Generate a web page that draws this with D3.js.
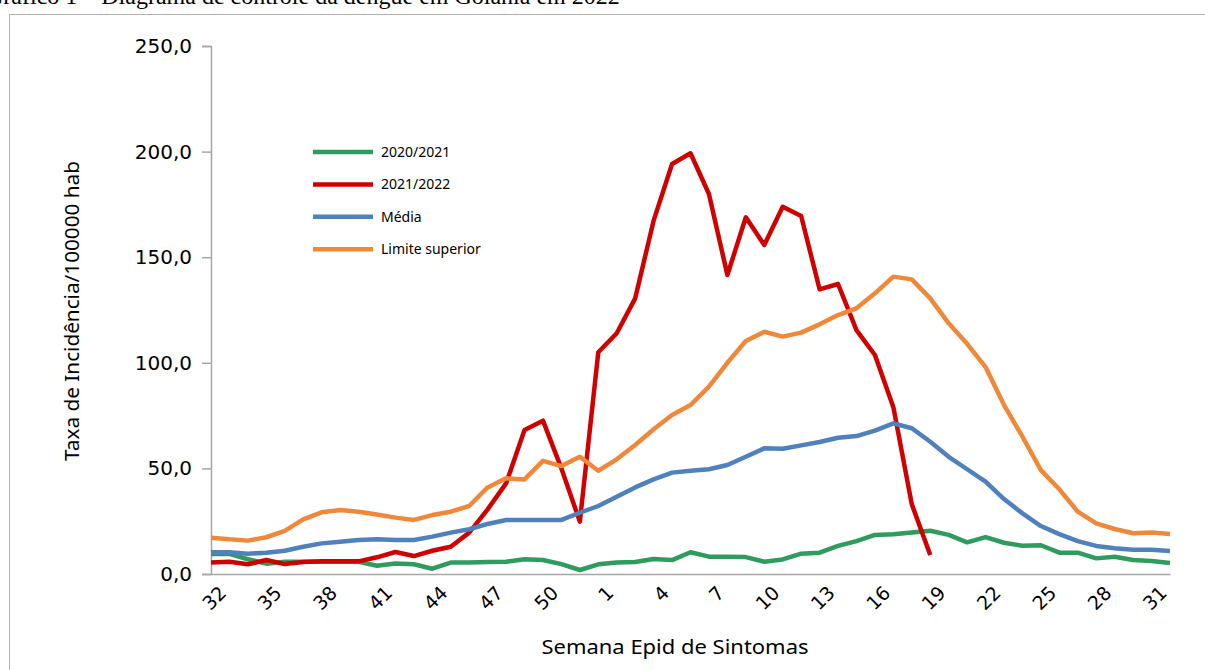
<!DOCTYPE html>
<html>
<head>
<meta charset="utf-8">
<script src="https://cdn.jsdelivr.net/npm/d3@7"></script>
<style>
  body { margin: 0; background: #fff; }
  svg { display: block; }
</style>
</head>
<body>
<svg id="chart"></svg>
<script>
// epidemiological weeks 32..52 then 1..32
var weeks = [32,33,34,35,36,37,38,39,40,41,42,43,44,45,46,47,48,49,50,51,52,
             1,2,3,4,5,6,7,8,9,10,11,12,13,14,15,16,17,18,19,20,21,22,23,24,25,26,27,28,29,30,31,32]

var yTicks = [0, 50, 100, 150, 200, 250]

var seriesNames = ["2020/2021", "2021/2022", "Média", "Limite superior"]

var green = [9.5, 9.5, 7.0, 4.9, 5.8, 5.8, 5.8, 5.8, 5.8, 3.9, 5.0, 4.6, 2.5, 5.4, 5.5, 5.7, 5.8, 7.0, 6.6, 4.7, 1.9,
             4.6, 5.4, 5.7, 7.1, 6.6, 10.3, 8.2, 8.2, 8.0, 5.8, 6.9, 9.6, 10.1, 13.3, 15.6, 18.5, 18.8, 19.7, 20.5,
             18.5, 15.0, 17.5, 14.8, 13.4, 13.6, 10.1, 10.1, 7.4, 8.2, 6.6, 6.2, 5.2]

var red = [5.4, 5.8, 4.6, 6.6, 4.7, 5.7, 6.0, 6.0, 6.0, 7.9, 10.4, 8.5, 11.0, 12.9, 19.6, 30.6, 42.9, 68.2, 72.6, 50.0,
           24.8, 105, 114, 130.5, 167.3, 194.1, 199.2, 179.9, 141.6, 168.9, 155.8, 173.9, 169.5, 134.8, 137.3, 115.5,
           103.7, 79, 33, 9]

var media = [10.3, 10.3, 9.6, 10.1, 11.0, 12.9, 14.5, 15.3, 16.1, 16.4, 16.1, 16.1, 17.7, 19.6, 21.2, 23.7, 25.6, 25.6,
             25.6, 25.6, 29.0, 32.2, 36.6, 41.0, 44.8, 48.0, 48.9, 49.6, 51.6, 55.5, 59.5, 59.3, 60.9, 62.5, 64.5, 65.3,
             67.9, 71.3, 69.0, 62.6, 55.5, 49.6, 43.7, 35.5, 28.7, 22.7, 18.9, 15.6, 13.3, 12.2, 11.5, 11.5, 10.9]

var limite = [17.2, 16.4, 15.8, 17.4, 20.4, 25.9, 29.2, 30.3, 29.5, 28.2, 26.7, 25.6, 27.9, 29.5, 32.2, 41.0, 45.3, 44.8,
              53.6, 51.1, 55.5, 48.9, 54.3, 61.1, 68.5, 75.3, 80.0, 88.7, 100, 110.3, 114.7, 112.4, 114.3, 118.2, 122.6,
              125.8, 132.9, 140.8, 139.5, 130.5, 118.7, 109, 98, 80, 65, 49.2, 40.1, 29.5, 24.0, 21.3, 19.3, 19.7, 18.9]

var dimensions = {
  width: 1205,
  height: 670,
  margin: { top: 46, bottom: 96, right: 35, left: 211 }
}

var colors = ["#2e9c5e", "#d00000", "#4f81bd", "#f0883a"]
var allSeries = [green, red, media, limite]

var svg = d3.select("#chart")
  .attr("width", dimensions.width)
  .attr("height", dimensions.height)

// cut-off caption above the frame
svg.append("text")
  .text("Gráfico 1 – Diagrama de controle da dengue em Goiânia em 2022")
  .attr("x", -14)
  .attr("y", 4)
  .style("font-family", "Liberation Serif, serif")
  .style("font-size", "24px")
  .attr("fill", "#000")

// frame
svg.append("rect")
  .attr("x", 9.5)
  .attr("y", 14.5)
  .attr("width", 1220)
  .attr("height", 700)
  .attr("fill", "none")
  .attr("stroke", "#b3b3b3")
  .attr("stroke-width", 1)

var x = d3.scalePoint()
  .domain(d3.range(weeks.length))
  .range([dimensions.margin.left, dimensions.width - dimensions.margin.right])

var y = d3.scaleLinear()
  .domain([0, 250])
  .range([dimensions.height - dimensions.margin.bottom, dimensions.margin.top])

// y axis
var yAxis = svg.append("g")
  .attr("transform", "translate(" + dimensions.margin.left + ",0)")
  .call(d3.axisLeft(y).tickValues(yTicks).tickSize(9).tickPadding(10)
    .tickFormat(function(d) { return d.toFixed(1).replace(".", ","); }))
yAxis.select(".domain").attr("stroke", "#a6a6a6").attr("stroke-width", 1.5)
yAxis.selectAll(".tick line").attr("stroke", "#a6a6a6").attr("stroke-width", 1.5)
yAxis.selectAll("text")
  .style("font-family", "DejaVu Sans, Verdana, sans-serif")
  .style("font-size", "20px")
  .attr("fill", "#000")

// x axis
var xTickIdx = d3.range(0, weeks.length, 3)
var xAxis = svg.append("g")
  .attr("transform", "translate(0," + y(0) + ")")
  .call(d3.axisBottom(x).tickValues(xTickIdx).tickSize(0)
    .tickFormat(function(i) { return weeks[i]; }))
xAxis.select(".domain").attr("stroke", "#a6a6a6").attr("stroke-width", 1.5)
xAxis.selectAll("text")
  .style("font-family", "DejaVu Sans, Verdana, sans-serif")
  .style("font-size", "19px")
  .attr("fill", "#000")
  .attr("text-anchor", "end")
  .attr("y", 0)
  .attr("dy", "0.75em")
  .attr("transform", "translate(6,10) rotate(-45)")

// lines
var line = d3.line()
  .x(function(d, i) { return x(i); })
  .y(function(d) { return y(d); })

svg.append("g")
  .selectAll("path")
  .data(allSeries)
  .enter()
  .append("path")
    .attr("d", line)
    .attr("fill", "none")
    .attr("stroke", function(d, i) { return colors[i]; })
    .attr("stroke-width", 4.5)
    .attr("stroke-linejoin", "round")

// legend
var legend = svg.append("g")
  .selectAll("g")
  .data(seriesNames)
  .enter()
  .append("g")
    .attr("transform", function(d, i) { return "translate(313," + (152 + i * 32.4) + ")"; })

legend.append("line")
  .attr("x1", 0)
  .attr("x2", 60)
  .attr("stroke", function(d, i) { return colors[i]; })
  .attr("stroke-width", 4.5)

legend.append("text")
  .text(function(d) { return d; })
  .attr("x", 68)
  .attr("dy", "0.35em")
  .style("font-family", "Noto Sans, sans-serif")
  .style("font-size", "14px")
  .attr("fill", "#000")

// axis titles
svg.append("text")
  .text("Taxa de Incidência/100000 hab")
  .attr("text-anchor", "middle")
  .attr("transform", "translate(79,311) rotate(-90)")
  .attr("textLength", 300)
  .attr("lengthAdjust", "spacingAndGlyphs")
  .style("font-family", "Noto Sans, sans-serif")
  .style("font-size", "19px")
  .attr("fill", "#000")

svg.append("text")
  .text("Semana Epid de Sintomas")
  .attr("text-anchor", "middle")
  .attr("x", 675)
  .attr("y", 654)
  .attr("textLength", 267)
  .attr("lengthAdjust", "spacingAndGlyphs")
  .style("font-family", "Noto Sans, sans-serif")
  .style("font-size", "20px")
  .attr("fill", "#000")
</script>
</body>
</html>
